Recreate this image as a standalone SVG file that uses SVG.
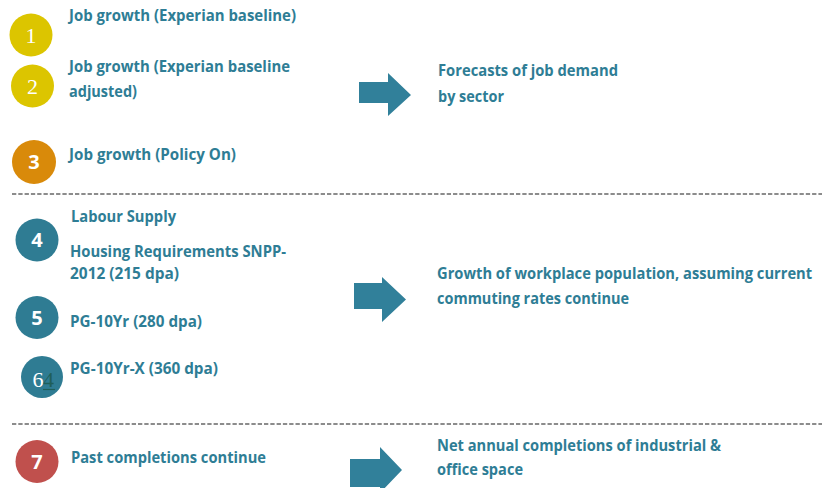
<svg xmlns="http://www.w3.org/2000/svg" width="822" height="488" viewBox="0 0 822 488">
  <style>
    .lbl { font-family: "Open Sans", Lato, "Liberation Sans", sans-serif; font-weight: 700; font-size: 16.8px; fill: #2E7D95; }
    .num { font-family: "Open Sans", "Liberation Sans", sans-serif; font-weight: 700; font-size: 20px; fill: #ffffff; text-anchor: middle; }
    .nums { font-family: "Liberation Serif", "DejaVu Serif", serif; font-weight: 400; font-size: 22px; fill: #ffffff; text-anchor: middle; }
    .sep { stroke: #8C8C8C; stroke-width: 2; stroke-dasharray: 4.3 2; fill: none; }
    .arrow { fill: #31809A; }
    .teal { fill: #2F7C93; }
  </style>
  <rect width="822" height="488" fill="#ffffff"/>

  <!-- section separators -->
  <g id="separators">
    <line class="sep" x1="12" y1="194" x2="822" y2="194"/>
    <line class="sep" x1="12" y1="424" x2="822" y2="424"/>
  </g>

  <!-- block arrows -->
  <g id="connectors">
    <polygon class="arrow" points="359,82 388,82 388,73 411,95 388,116 388,103 359,103"/>
    <polygon class="arrow" points="354,283 382,283 382,277 406,299.5 382,322 382,309 354,309"/>
    <polygon class="arrow" points="350,459 380,459 380,447 402,470 380,493 380,487 350,487"/>
  </g>

  <!-- job growth scenarios -->
  <g id="node1">
    <circle cx="31" cy="35" r="21.5" fill="#DCC500"/>
    <text class="nums" x="31" y="43">1</text>
    <text class="lbl" x="69" y="21" textLength="227" lengthAdjust="spacingAndGlyphs">Job growth (Experian baseline)</text>
  </g>
  <g id="node2">
    <circle cx="32.5" cy="86" r="21.5" fill="#DCC500"/>
    <text class="nums" x="32.5" y="94">2</text>
    <text class="lbl" x="69" y="72" textLength="221" lengthAdjust="spacingAndGlyphs">Job growth (Experian baseline</text>
    <text class="lbl" x="69" y="97" textLength="68" lengthAdjust="spacingAndGlyphs">adjusted)</text>
  </g>
  <g id="node3">
    <circle cx="34" cy="162" r="22" fill="#D98A0A"/>
    <text class="num" x="34" y="169">3</text>
    <text class="lbl" x="69" y="160" textLength="167" lengthAdjust="spacingAndGlyphs">Job growth (Policy On)</text>
  </g>
  <g id="target1">
    <text class="lbl" x="438" y="76" textLength="180" lengthAdjust="spacingAndGlyphs">Forecasts of job demand</text>
    <text class="lbl" x="438" y="102" textLength="66" lengthAdjust="spacingAndGlyphs">by sector</text>
  </g>

  <!-- labour supply scenarios -->
  <g id="node4">
    <circle class="teal" cx="37" cy="240" r="21.5"/>
    <text class="num" x="37" y="247">4</text>
    <text class="lbl" x="71" y="222" textLength="105" lengthAdjust="spacingAndGlyphs">Labour Supply</text>
    <text class="lbl" x="70" y="257" textLength="216" lengthAdjust="spacingAndGlyphs">Housing Requirements SNPP-</text>
    <text class="lbl" x="70" y="279" textLength="109" lengthAdjust="spacingAndGlyphs">2012 (215 dpa)</text>
  </g>
  <g id="node5">
    <circle class="teal" cx="37" cy="317.5" r="21.5"/>
    <text class="num" x="37" y="324.5">5</text>
    <text class="lbl" x="70" y="327" textLength="132" lengthAdjust="spacingAndGlyphs">PG-10Yr (280 dpa)</text>
  </g>
  <g id="node6">
    <circle class="teal" cx="42" cy="377" r="21"/>
    <text class="nums" x="38" y="387">6</text>
    <text x="43" y="387" font-family="'Liberation Serif', serif" font-size="22" fill="#1F5F5A">4</text>
    <line x1="43" y1="389.5" x2="55" y2="389.5" stroke="#1F5F5A" stroke-width="1.2"/>
    <text class="lbl" x="70" y="374" textLength="148" lengthAdjust="spacingAndGlyphs">PG-10Yr-X (360 dpa)</text>
  </g>
  <g id="target2">
    <!-- long first line is drawn in a horizontally condensed frame -->
    <g transform="translate(437,279) scale(0.78,1)">
      <text class="lbl" x="0" y="0" textLength="481" lengthAdjust="spacingAndGlyphs">Growth of workplace population, assuming current</text>
    </g>
    <text class="lbl" x="437" y="304" textLength="192" lengthAdjust="spacingAndGlyphs">commuting rates continue</text>
  </g>

  <!-- past trends -->
  <g id="node7">
    <circle cx="37" cy="461.5" r="21.5" fill="#C0504D"/>
    <text class="num" x="37" y="468.5">7</text>
    <text class="lbl" x="71" y="463" textLength="195" lengthAdjust="spacingAndGlyphs">Past completions continue</text>
  </g>
  <g id="target3">
    <text class="lbl" x="437" y="451" textLength="284" lengthAdjust="spacingAndGlyphs">Net annual completions of industrial &amp;</text>
    <text class="lbl" x="437" y="475" textLength="86" lengthAdjust="spacingAndGlyphs">office space</text>
  </g>
</svg>
